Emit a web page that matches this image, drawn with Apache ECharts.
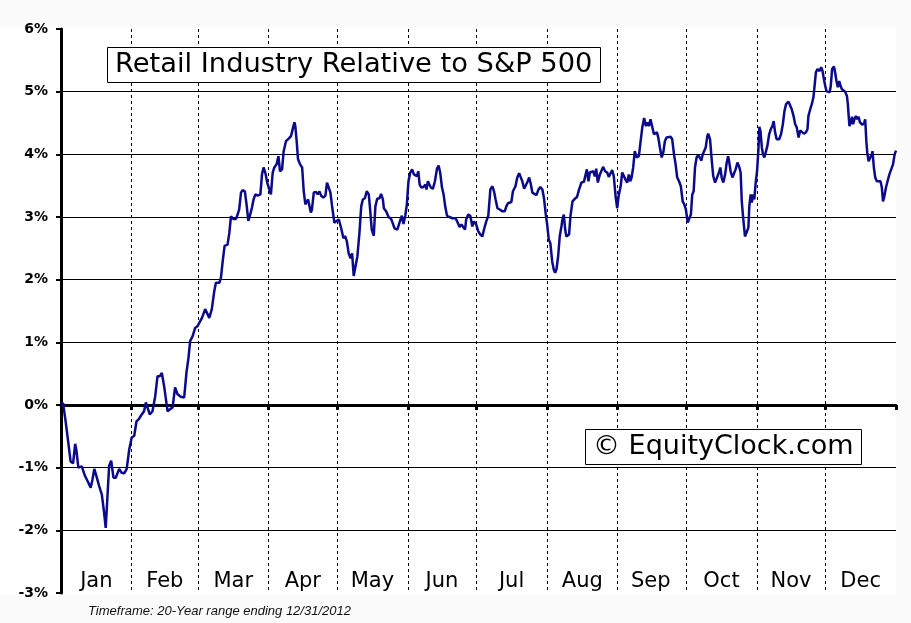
<!DOCTYPE html>
<html><head><meta charset="utf-8">
<script src="https://cdn.jsdelivr.net/npm/echarts@6/dist/echarts.min.js"></script>
<style>html,body{margin:0;padding:0;background:#fbfbfb}#c{width:911px;height:623px}</style>
</head><body><div id="c"></div>
<script>
const monthNames = ['Jan','Feb','Mar','Apr','May','Jun','Jul','Aug','Sep','Oct','Nov','Dec'];
const monthEnds = [0,31,60,91,121,152,182,213,244,274,305,335,366];
const monthMids = [15.5,45.5,75.5,106,136.5,167,197.5,228.5,258.5,289.5,320,350.5];
const yMin = -3, yMax = 6, yStep = 1;
const chartTitle = 'Retail Industry Relative to S&P 500';
const watermark = '\u00A9 EquityClock.com';
const footnote = 'Timeframe: 20-Year range ending 12/31/2012';

const dayOfYear = [
0,0.9,2.1,3.2,4.2,5.3,6.2,6.7,7.6,9.1,10.5,12.0,13.0,13.8,14.6,15.5,16.7,17.9,18.9,19.6,20.3,21.1,22.0,23.0,24.0,25.5,26.5,27.7,28.8,29.9,
31.0,32.1,33.1,34.2,35.4,36.4,37.2,37.9,38.9,40.1,41.3,42.3,43.3,44.2,45.2,46.0,46.7,47.7,48.9,50.0,51.1,52.5,54.0,55.0,55.9,56.6,57.7,58.8,59.9,
60.6,61.8,63.2,64.0,65.0,66.1,67.2,67.9,69.4,70.1,70.8,71.7,73.0,73.8,74.5,75.5,76.7,77.6,78.1,78.9,79.6,80.6,81.4,82.1,82.8,83.7,84.4,85.2,86.2,87.4,88.1,88.8,89.6,90.4,
91.3,92.0,92.8,93.5,94.5,95.3,96.0,96.9,97.6,98.6,99.8,100.8,101.6,102.3,102.7,103.3,103.9,104.8,105.7,106.4,107.1,107.7,108.3,108.9,109.5,110.0,110.8,111.8,112.5,113.3,114.0,115.0,115.9,116.6,117.4,118.1,118.8,119.8,120.9,
121.8,122.8,123.8,124.5,125.3,126.1,126.9,127.6,128.3,129.1,129.9,130.8,131.6,132.3,133.2,134.0,134.9,135.5,136.2,137.1,137.8,138.6,139.6,140.3,141.1,141.5,142.5,143.6,144.7,145.5,146.2,147.4,148.1,148.8,149.4,150.1,150.9,151.6,
152.3,153.1,153.9,154.7,155.4,156.0,156.6,157.2,157.9,158.9,159.7,160.2,160.8,161.4,162.1,163.0,163.9,164.8,165.5,166.2,167.0,167.7,168.4,169.2,170.3,171.5,173.0,174.0,174.7,175.5,176.2,177.1,177.6,178.5,179.4,180.3,181.0,
182.0,182.9,183.8,184.7,185.4,186.4,187.3,188.2,189.1,189.8,190.5,191.3,192.3,193.5,194.5,195.2,195.9,197.4,198.1,199.2,200.0,200.8,201.5,202.2,203.0,203.7,204.6,205.2,205.9,206.6,207.4,208.4,209.3,210.1,211.0,211.7,212.5,
213.1,213.8,214.5,215.3,216.0,216.6,217.2,217.9,218.6,219.4,219.8,220.4,221.0,221.5,222.3,222.7,223.3,224.2,225.2,226.2,227.1,228.1,229.2,229.7,230.5,231.2,231.8,232.5,233.3,234.0,234.6,235.3,236.2,236.9,237.6,238.5,239.4,240.1,240.9,241.6,242.3,243.1,243.8,
244.4,245.0,245.3,246.0,246.7,247.4,248.2,248.9,249.5,250.1,250.8,251.5,252.3,253.3,254.0,254.8,255.6,256.4,257.1,257.7,258.4,259.2,259.9,260.6,261.2,261.8,262.5,263.3,264.0,264.7,265.4,266.2,267.2,267.9,268.7,269.4,270.1,270.9,271.7,272.5,273.2,273.9,
274.7,275.4,276.1,276.7,277.3,277.9,278.6,279.3,280.1,280.7,281.3,282.0,282.6,283.3,283.7,284.5,285.2,285.9,286.7,287.5,288.4,289.0,289.6,290.3,291.1,291.8,292.4,292.8,293.5,294.3,295.0,295.7,296.5,297.2,297.9,298.4,299.0,299.8,300.6,301.3,301.7,302.3,302.8,303.4,303.9,304.5,
305.1,305.7,306.1,306.6,307.2,307.7,308.3,309.1,309.6,310.4,311.1,311.8,312.4,313.0,313.7,314.8,315.6,316.4,317.1,317.8,318.9,319.6,320.3,321.1,321.8,322.5,323.3,324.0,324.7,325.6,326.5,327.2,327.6,328.4,329.1,329.8,330.3,330.9,331.6,332.5,333.2,333.8,334.4,
335.0,335.5,336.1,336.9,337.4,338.0,338.8,339.3,339.9,340.5,341.1,341.7,342.3,343.0,343.7,344.5,344.9,345.2,345.6,346.2,346.7,347.2,347.8,348.4,349.0,349.6,350.2,350.8,351.3,352.1,352.5,353.0,353.4,354.0,354.7,355.4,355.7,356.3,356.9,357.6,358.4,359.2,359.8,360.3,360.9,361.6,362.3,363.1,363.9,364.7,365.4,366.0
];
const relPct = [
0.02,0.03,-0.28,-0.60,-0.90,-0.93,-0.62,-0.71,-1.00,-0.98,-1.13,-1.24,-1.32,-1.19,-1.02,-1.13,-1.29,-1.43,-1.72,-1.96,-1.98,-0.97,-0.89,-1.16,-1.16,-1.02,-1.08,-1.09,-1.02,-0.71,
-0.52,-0.49,-0.26,-0.22,-0.15,-0.10,0.04,0.05,-0.15,-0.10,0.14,0.46,0.46,0.51,0.30,0.09,-0.10,-0.07,-0.04,0.28,0.17,0.13,0.12,0.52,0.76,1.02,1.10,1.23,1.26,
1.31,1.39,1.53,1.54,1.39,1.53,1.82,1.95,1.95,2.03,2.27,2.54,2.56,2.75,3.01,2.97,2.97,3.06,3.12,3.39,3.43,3.41,3.18,2.94,3.02,3.15,3.28,3.36,3.34,3.36,3.68,3.79,3.70,3.55,
3.44,3.36,3.71,3.79,3.84,3.97,3.73,3.76,4.05,4.21,4.25,4.29,4.32,4.51,4.45,4.21,3.92,3.84,3.79,3.41,3.20,3.18,3.28,3.26,3.07,3.12,3.39,3.40,3.36,3.41,3.34,3.31,3.34,3.55,3.57,3.39,3.18,2.91,2.94,
2.96,2.82,2.66,2.70,2.61,2.42,2.34,2.42,2.06,2.07,2.37,2.74,3.17,3.28,3.30,3.41,3.36,3.12,2.80,2.70,3.17,3.29,3.30,3.37,3.28,3.14,3.09,3.00,2.97,2.96,2.82,2.80,2.82,2.96,3.02,2.89,3.02,3.20,
3.57,3.71,3.76,3.68,3.71,3.65,3.73,3.52,3.47,3.48,3.52,3.44,3.57,3.60,3.47,3.45,3.57,3.77,3.82,3.71,3.47,3.36,3.17,3.02,3.00,2.98,2.98,2.90,2.84,2.88,2.90,2.80,2.96,3.04,3.02,2.85,2.93,
2.88,2.77,2.72,2.69,2.80,2.93,3.02,3.44,3.49,3.41,3.28,3.14,3.12,3.09,3.09,3.17,3.22,3.24,3.41,3.49,3.63,3.70,3.68,3.57,3.45,3.48,3.57,3.63,3.53,3.39,3.36,3.35,3.44,3.48,3.44,3.30,3.04,
2.88,2.64,2.58,2.29,2.16,2.11,2.17,2.37,2.69,2.86,2.96,3.04,2.80,2.69,2.66,2.72,3.01,3.25,3.29,3.32,3.44,3.55,3.56,3.57,3.76,3.57,3.71,3.68,3.73,3.65,3.77,3.55,3.68,3.65,3.80,3.73,3.71,3.64,3.65,3.75,3.65,3.33,3.14,
3.33,3.44,3.49,3.71,3.71,3.60,3.55,3.68,3.57,3.63,3.79,4.05,3.95,3.97,4.19,4.43,4.58,4.45,4.51,4.45,4.56,4.53,4.32,4.29,4.35,4.27,4.11,3.95,4.03,4.21,4.27,4.27,4.28,4.24,4.00,3.84,3.63,3.57,3.49,3.25,3.20,3.12,
2.91,2.91,3.04,3.36,3.41,3.79,3.95,3.99,4.00,3.90,4.00,4.03,4.11,4.29,4.33,4.24,3.92,3.65,3.55,3.57,3.71,3.79,3.63,3.55,3.68,3.87,3.97,3.90,3.73,3.63,3.64,3.76,3.87,3.81,3.71,3.25,2.99,2.69,2.67,2.83,3.17,3.36,3.23,3.36,3.28,3.55,
3.73,4.08,4.44,4.37,4.11,4.00,3.95,3.97,4.13,4.32,4.40,4.45,4.53,4.35,4.24,4.24,4.32,4.48,4.69,4.80,4.84,4.81,4.72,4.61,4.48,4.43,4.27,4.38,4.36,4.33,4.35,4.40,4.61,4.72,4.80,4.91,5.09,5.31,5.36,5.33,5.39,5.33,5.20,
5.09,5.01,4.99,4.99,5.09,5.36,5.40,5.31,5.17,5.07,5.17,5.09,5.04,5.01,5.00,4.93,4.80,4.64,4.45,4.51,4.60,4.48,4.56,4.61,4.56,4.60,4.51,4.48,4.47,4.51,4.56,4.21,4.03,3.89,3.88,4.00,4.05,3.79,3.63,3.57,3.60,3.57,3.47,3.25,3.33,3.47,3.57,3.68,3.76,3.84,4.00,4.06
];

const seriesData = dayOfYear.map((d, i) => [d, relPct[i]]);
const chart = echarts.init(document.getElementById('c'), null, {renderer: 'canvas'});
const FONT = 'DejaVu Sans';
chart.setOption({
  backgroundColor: '#fbfbfb',
  animation: false,
  graphic: [
    {type: 'rect', z: -10, silent: true, shape: {x: 0, y: 28, width: 896, height: 566}, style: {fill: '#ffffff'}},
    {type: 'text', left: 88, top: 605, style: {text: footnote, font: 'italic 13px "Liberation Sans", Arial, sans-serif', fill: '#111'}}
  ],
  title: [
    {text: chartTitle, left: 107, top: 47, padding: [3, 8, 3, 8], borderColor: '#000', borderWidth: 1, backgroundColor: '#fff', z: 10,
     textStyle: {fontFamily: FONT, fontSize: 27.3, fontWeight: 'normal', color: '#000', lineHeight: 30}},
    {text: watermark, left: 585, top: 429, padding: [3, 8, 3, 8], borderColor: '#000', borderWidth: 1, backgroundColor: '#fff', z: 10,
     textStyle: {fontFamily: FONT, fontSize: 27, fontWeight: 'normal', color: '#000', lineHeight: 30}}
  ],
  grid: {left: 61, right: 15, top: 29, bottom: 30, containLabel: false},
  xAxis: [
    {type: 'value', min: 0, max: 366,
     axisLine: {show: true, onZero: true, lineStyle: {color: '#000', width: 3}},
     axisTick: {show: true, customValues: monthEnds, length: 5, lineStyle: {color: '#000', width: 3}},
     axisLabel: {show: false},
     splitLine: {show: true, showMinLine: false, showMaxLine: false, lineStyle: {color: '#000', width: 1, type: [3, 3]}}
    },
    {type: 'value', min: 0, max: 366, position: 'bottom', offset: -22,
     axisLine: {show: false, onZero: false}, axisTick: {show: false}, splitLine: {show: false},
     axisLabel: {show: true, customValues: monthMids, margin: 0, fontFamily: FONT, fontSize: 21, color: '#000',
       formatter: v => monthNames[monthMids.indexOf(v)] || ''}
    }
  ],
  yAxis: {type: 'value', min: yMin, max: yMax, interval: yStep,
    axisLine: {show: true, lineStyle: {color: '#000', width: 3}},
    axisTick: {show: true, length: 5, lineStyle: {color: '#000', width: 2}},
    axisLabel: {margin: 13, fontFamily: FONT, fontWeight: 'bold', fontSize: 14, color: '#000', formatter: v => v + '%'},
    splitLine: {show: true, showMinLine: false, showMaxLine: false, lineStyle: {color: '#000', width: 1}}
  },
  series: [{type: 'line', xAxisIndex: 0, data: seriesData, showSymbol: false, symbol: 'none', smooth: false,
    lineStyle: {color: '#0a0a8a', width: 2.5}, z: 3}]
});
</script></body></html>
